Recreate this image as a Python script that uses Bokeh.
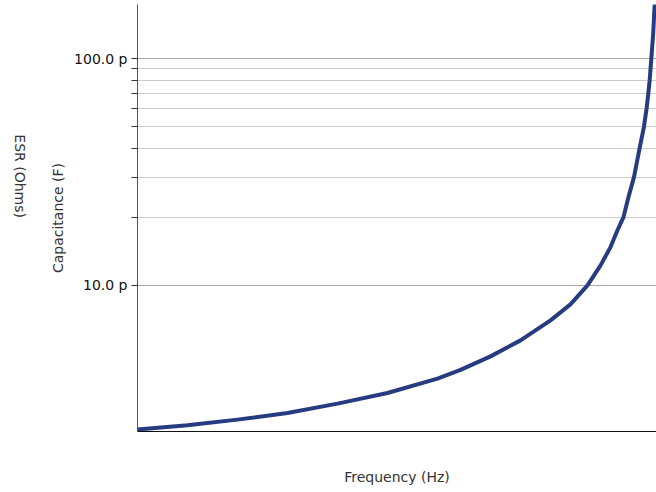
import math
from bokeh.plotting import figure
from bokeh.models import FixedTicker, CustomJSTickFormatter, Range1d, LinearAxis
from bokeh.embed import file_html
from bokeh.resources import INLINE

# Frequency (MHz, axis carries no tick labels) and effective capacitance (pF)
freq_mhz = [0.0, 48.2, 96.3, 144.5, 192.7, 240.8, 289.0, 311.2, 340.1, 369.0,
            397.9, 417.1, 433.5, 446.1, 455.7, 462.4, 468.2, 473.5, 478.3,
            483.6, 487.9, 490.4, 492.1, 493.4, 495.0, 496.8, 498.1, 499.0]
cap_pf = [2.314, 2.416, 2.561, 2.737, 3.012, 3.354, 3.882, 4.244, 4.866, 5.724,
          7.014, 8.249, 10.0, 12.25, 14.75, 17.5, 20.0, 25.0, 30.0,
          40.0, 50.0, 60.0, 70.0, 80.0, 100.0, 128.5, 168.3, 185.0]
cap_f = [c * 1e-12 for c in cap_pf]

major_ticks = [1e-11, 1e-10]
minor_ticks = [2e-11, 3e-11, 4e-11, 5e-11, 6e-11, 7e-11, 8e-11, 9e-11]

FONT = "DejaVu Sans"

p = figure(width=656, height=492, output_backend="svg", toolbar_location=None,
           y_axis_type="log", x_range=(0, 500), y_range=(2.27e-12, 1.73e-10),
           min_border_left=137, min_border_right=0, min_border_top=4,
           min_border_bottom=61)
p.outline_line_color = None
p.background_fill_color = "white"

p.line(freq_mhz, cap_f, line_width=4, color="#263b80", line_join="round")

# y axis
ya = p.yaxis[0]
ya.ticker = FixedTicker(ticks=major_ticks, minor_ticks=minor_ticks)
ya.formatter = CustomJSTickFormatter(code="return (tick*1e12).toFixed(1) + ' p';")
ya.axis_label = "Capacitance (F)"
ya.axis_label_text_font = FONT
ya.axis_label_text_font_size = "14px"
ya.axis_label_text_font_style = "normal"
ya.axis_label_text_color = "#333333"
ya.axis_label_standoff = 5
ya.major_label_text_font = FONT
ya.major_label_text_font_size = "14px"
ya.major_label_text_color = "#111111"
ya.major_label_standoff = 4
ya.major_tick_out = 6
ya.major_tick_in = 0
ya.minor_tick_out = 6
ya.minor_tick_in = 0
ya.axis_line_color = "#555555"
ya.major_tick_line_color = "#333333"
ya.minor_tick_line_color = "#333333"

# x axis
xa = p.xaxis[0]
xa.ticker = FixedTicker(ticks=[])
xa.axis_label = "Frequency (Hz)"
xa.axis_label_text_font = FONT
xa.axis_label_text_font_size = "14px"
xa.axis_label_text_font_style = "normal"
xa.axis_label_text_color = "#333333"
xa.axis_label_standoff = 37
xa.axis_line_color = "#111111"

# ESR axis (label only)
p.extra_y_ranges = {"esr": Range1d(0, 1)}
ea = LinearAxis(y_range_name="esr", ticker=FixedTicker(ticks=[]),
                axis_label="ESR (Ohms)")
ea.axis_line_color = None
ea.axis_label_text_font = FONT
ea.axis_label_text_font_size = "14px"
ea.axis_label_text_font_style = "normal"
ea.axis_label_text_color = "#333333"
ea.axis_label_standoff = 28
ea.axis_label_orientation = -math.pi / 2
p.add_layout(ea, "left")

# grids
p.xgrid.grid_line_color = None
p.ygrid.ticker = ya.ticker
p.ygrid.grid_line_color = "#a8a8a8"
p.ygrid.grid_line_width = 1
p.ygrid.minor_grid_line_color = "#cccccc"
p.ygrid.minor_grid_line_width = 1

open("out.html", "w").write(file_html(p, INLINE))
